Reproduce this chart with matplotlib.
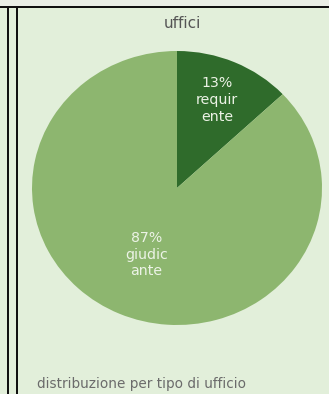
"""
Pie chart: distribuzione per tipo di ufficio.
Run: python plot.py
"""

import numpy as np
import matplotlib
matplotlib.use("Agg")
import matplotlib.pyplot as plt
from matplotlib.patches import Rectangle

labels = ["requir\nente", "giudic\nante"]
shares = [13, 87]
colors = ["#2f6b2b", "#8db66f"]
label_radius = [0.70, 0.53]

BG = "#e2efda"

plt.rcParams.update({
    "font.family": ["DejaVu Sans"],
})

W, H = 329, 394
fig = plt.figure(figsize=(W / 100, H / 100), dpi=100)
fig.patch.set_facecolor(BG)


def px_rect(x0, y0, w, h, color):
    # rectangle given in pixels from the top-left corner
    fig.patches.append(Rectangle((x0 / W, 1 - (y0 + h) / H), w / W, h / H,
                                 transform=fig.transFigure, color=color,
                                 lw=0, zorder=0))


# top strip and panel frames
px_rect(0, 0, W, 6, "#eaeee6")
px_rect(0, 6, W, 2, "#111111")
px_rect(7, 6, 2, H, "#111111")
px_rect(16, 6, 2, H, "#111111")

cx, cy, rx, ry = 177, 188, 145, 137
ax = fig.add_axes([(cx - rx) / W, (H - cy - ry) / H, 2 * rx / W, 2 * ry / H])
ax.set_facecolor("none")
wedges, _ = ax.pie(shares, colors=colors, startangle=90, counterclock=False,
                   radius=1.0, normalize=True)
ax.set_aspect("auto")
ax.set_xlim(-1, 1)
ax.set_ylim(-1, 1)
ax.axis("off")

total = sum(shares)
start = 0.0
for lab, val, r in zip(labels, shares, label_radius):
    mid = np.deg2rad((start + val / 2) / total * 360)
    start += val
    ax.text(r * np.sin(mid), r * np.cos(mid), f"{val}%\n{lab}",
            ha="center", va="center", color="#ecf3e6", fontsize=10.2,
            linespacing=1.25)

fig.text(182 / W, 1 - 23 / H, "uffici", ha="center", va="center",
         color="#555555", fontsize=11)
fig.text(37 / W, 1 - 384 / H, "distribuzione per tipo di ufficio",
         ha="left", va="center", color="#6b6b6b", fontsize=9.8)

fig.savefig("out.png", dpi=100, facecolor=BG)
